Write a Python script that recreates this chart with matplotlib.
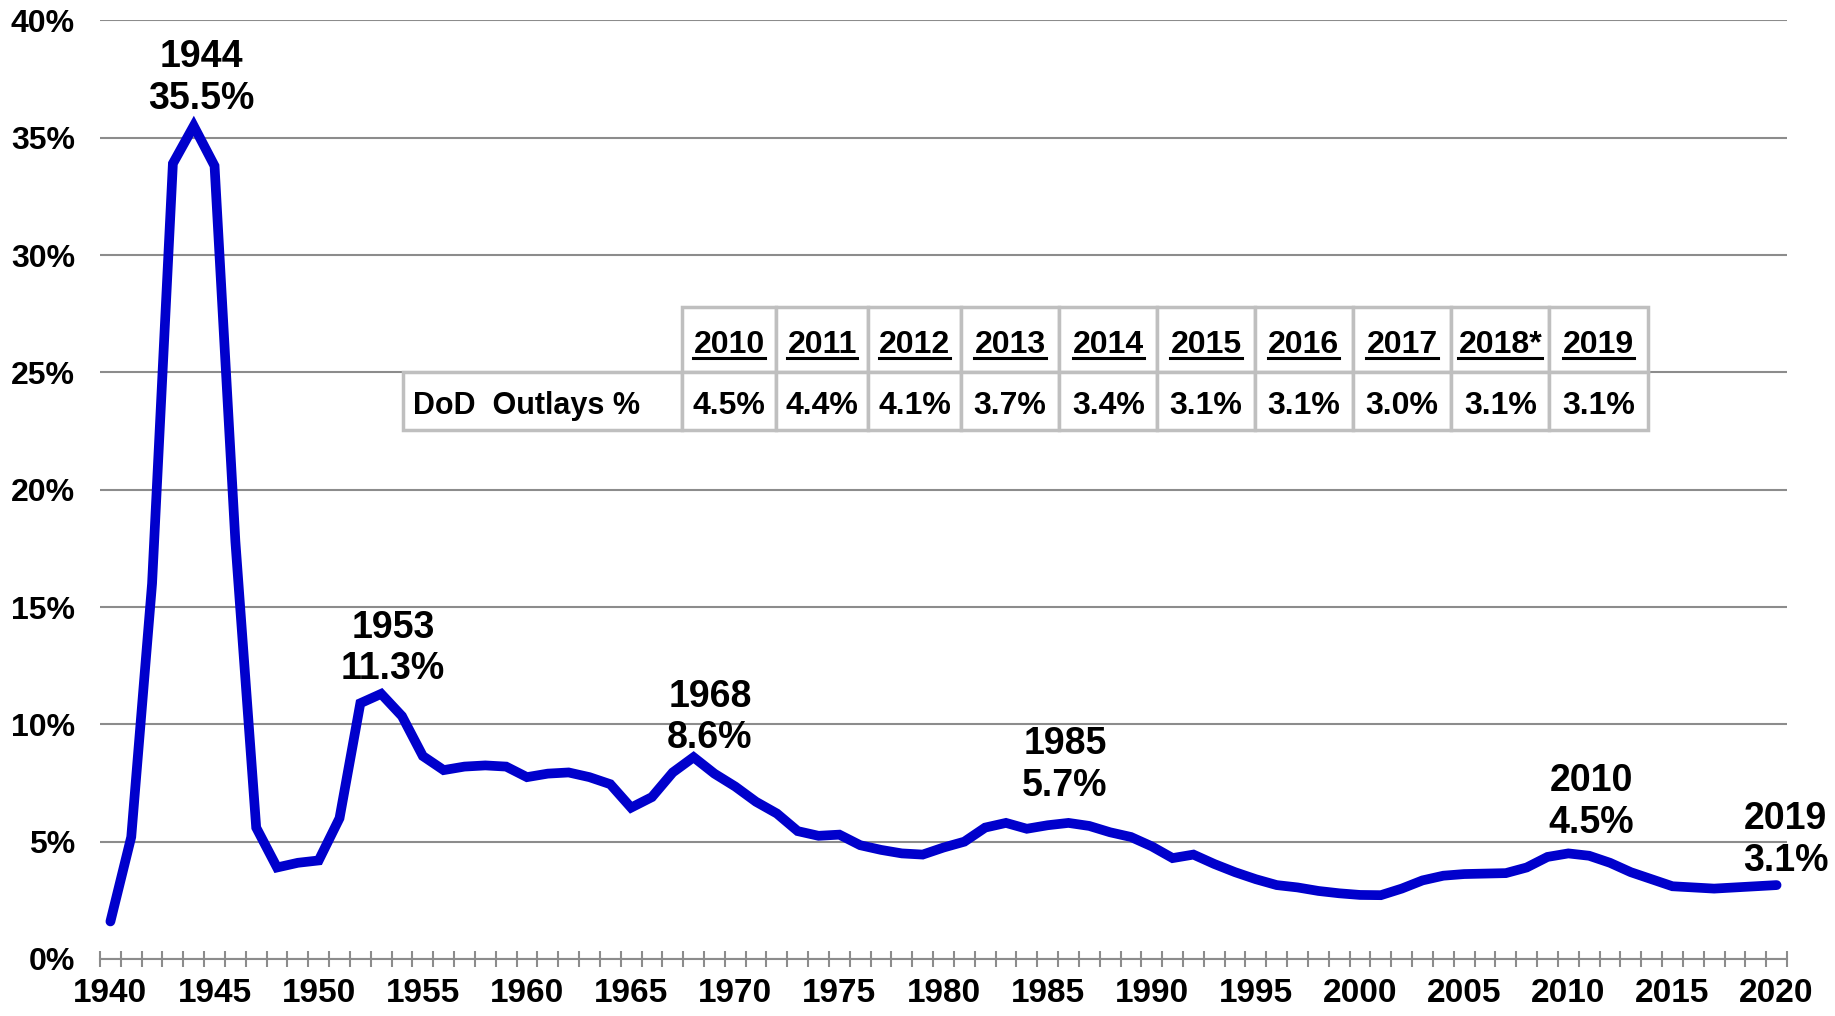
import matplotlib
matplotlib.use("Agg")
import matplotlib.pyplot as plt
from matplotlib.lines import Line2D
from matplotlib.patches import Rectangle

# DoD outlays as % of GDP, one value per fiscal year 1940..2020
years = list(range(1940, 2021))
outlays = [
    1.6, 5.2, 16.0, 33.9, 35.5, 33.8, 17.8, 5.6, 3.9, 4.1,
    4.2, 6.0, 10.9, 11.3, 10.35, 8.65, 8.05, 8.2, 8.25, 8.2,
    7.75, 7.9, 7.95, 7.75, 7.45, 6.45, 6.9, 7.95, 8.6, 7.9,
    7.35, 6.7, 6.2, 5.45, 5.25, 5.3, 4.85, 4.65, 4.5, 4.45,
    4.75, 5.0, 5.6, 5.8, 5.55, 5.7, 5.8, 5.67, 5.4, 5.2,
    4.8, 4.3, 4.45, 4.05, 3.7, 3.4, 3.15, 3.05, 2.9, 2.8,
    2.73, 2.72, 3.0, 3.35, 3.55, 3.62, 3.64, 3.66, 3.9, 4.35,
    4.5, 4.4, 4.1, 3.7, 3.4, 3.1, 3.05, 3.0, 3.05, 3.1,
    3.15,
]

peak_text = ["1944\n35.5%", "1953\n11.3%", "1968\n8.6%", "1985\n5.7%", "2010\n4.5%", "2019\n3.1%"]

table_years = ["2010", "2011", "2012", "2013", "2014", "2015", "2016", "2017", "2018*", "2019"]
table_values = ["4.5%", "4.4%", "4.1%", "3.7%", "3.4%", "3.1%", "3.1%", "3.0%", "3.1%", "3.1%"]
row_label = "DoD  Outlays %"

# layout (pixels of the 1835x1016 output)
W, H = 1835, 1016
BOLD = ["Liberation Sans", "DejaVu Sans"]
NARROW = ["Liberation Sans Narrow", "Liberation Sans", "DejaVu Sans"]
GRID = "#8c8c8c"
BLUE = "#0000CC"

fig = plt.figure(figsize=(W / 100, H / 100), dpi=100)
ax = fig.add_axes([100 / W, 1 - 959 / H, 1687 / W, 938.6 / H])

x = list(range(len(years)))
ax.plot(x, outlays, color=BLUE, lw=7, solid_capstyle="round",
        solid_joinstyle="miter", zorder=3)

ax.set_xlim(-0.5, len(years) - 0.5)
ax.set_ylim(0, 40)
ax.set_yticks(range(0, 41, 5))
ax.set_yticklabels([f"{v}%" for v in range(0, 41, 5)],
                   fontsize=23, fontweight="bold", family=BOLD)
ax.yaxis.grid(True, color=GRID, lw=1.5)
ax.set_axisbelow(True)
for s in ["top", "right", "left"]:
    ax.spines[s].set_visible(False)
ax.spines["bottom"].set_color(GRID)
ax.spines["bottom"].set_linewidth(1.5)

ax.set_xticks(x[::5])
ax.set_xticklabels([str(y) for y in years[::5]], fontsize=24,
                   fontweight="bold", family=NARROW)
ax.set_xticks([i - 0.5 for i in range(len(years) + 1)], minor=True)
ax.tick_params(axis="x", which="major", length=0, pad=14)
ax.tick_params(axis="x", which="minor", direction="inout", length=11,
               width=1.5, color=GRID)
ax.tick_params(axis="y", length=0, pad=18)

# peak annotations (category x, value y)
peak_pos = [(4.35, 37.55), (13.57, 13.23), (28.78, 10.29), (45.83, 8.27),
            (71.1, 6.7), (80.44, 5.08)]
for txt, (px, py) in zip(peak_text, peak_pos):
    ax.text(px, py, txt, ha="center", va="center", fontsize=27,
            fontweight="bold", family=BOLD, linespacing=1.2, clip_on=False)

# table drawn in figure pixels
col_edges = [402.6, 682.3, 775.9, 868.4, 960.8, 1059.1, 1157.4, 1254.5,
             1352.8, 1451.1, 1549.4, 1647.8]
row_edges = [306.6, 372.2, 429.5]


def cell(x0, x1, y0, y1):
    fig.add_artist(Rectangle((x0 / W, 1 - y1 / H), (x1 - x0) / W, (y1 - y0) / H,
                             transform=fig.transFigure, facecolor="white",
                             edgecolor="#bfbfbf", lw=2.5, zorder=5))


cell(col_edges[0], col_edges[1], row_edges[1], row_edges[2])
fig.text((col_edges[0] + 10) / W, 1 - 414 / H, row_label, ha="left",
         va="baseline", fontsize=22, fontweight="bold", family=NARROW, zorder=6)

headers = []
for i, (yr, val) in enumerate(zip(table_years, table_values)):
    x0, x1 = col_edges[i + 1], col_edges[i + 2]
    cell(x0, x1, row_edges[0], row_edges[1])
    cell(x0, x1, row_edges[1], row_edges[2])
    xc = (x0 + x1) / 2 / W
    headers.append(fig.text(xc, 1 - 353.5 / H, yr, ha="center", va="baseline",
                            fontsize=23, fontweight="bold", family=NARROW, zorder=6))
    fig.text(xc, 1 - 414 / H, val, ha="center", va="baseline", fontsize=23,
             fontweight="bold", family=NARROW, zorder=6)

# underline the header years
fig.canvas.draw()
renderer = fig.canvas.get_renderer()
for t in headers:
    bb = t.get_window_extent(renderer)
    yline = (1 - 358 / H)
    fig.add_artist(Line2D([bb.x0 / W, bb.x1 / W], [yline, yline],
                          transform=fig.transFigure, color="black", lw=2.2, zorder=6))

fig.savefig("out.png", dpi=100, facecolor="white")
